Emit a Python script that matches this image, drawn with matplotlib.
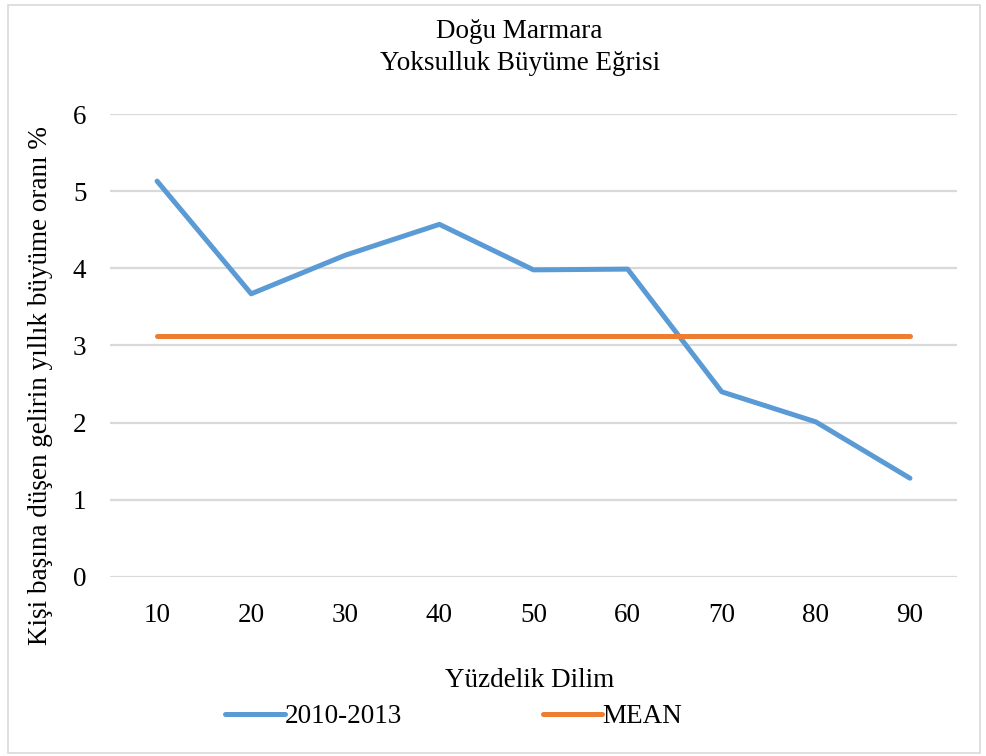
import matplotlib
matplotlib.use("Agg")
import matplotlib.pyplot as plt
from matplotlib.patches import Rectangle

percentiles = ["10", "20", "30", "40", "50", "60", "70", "80", "90"]
growth_2010_2013 = [5.13, 3.67, 4.17, 4.57, 3.98, 3.99, 2.40, 2.01, 1.28]
mean_growth = [3.12] * len(percentiles)
y_ticks = [0, 1, 2, 3, 4, 5, 6]

plt.rcParams["font.family"] = ["Liberation Serif", "DejaVu Serif"]
FS = 19.5

fig = plt.figure(figsize=(9.86, 7.56), dpi=100)
ax = fig.add_axes([0.1116, 0.2368, 0.9706 - 0.1116, 0.8492 - 0.2368])

x = list(range(len(percentiles)))
ax.plot(x, growth_2010_2013, color="#5B9BD5", lw=3.6, solid_capstyle="round",
        solid_joinstyle="round", label="2010-2013", zorder=3)
ax.plot(x, mean_growth, color="#ED7D31", lw=3.6, solid_capstyle="round",
        label="MEAN", zorder=3)

ax.set_xlim(-0.5, len(percentiles) - 0.5)
ax.set_ylim(0, 6)
ax.set_xticks(x)
ax.set_xticklabels(percentiles)
ax.set_yticks(y_ticks)
ax.tick_params(axis="both", length=0, labelsize=FS, colors="black")
ax.tick_params(axis="x", pad=19)
ax.tick_params(axis="y", pad=17)
ax.grid(axis="y", color="#D9D9D9", lw=1.6)
ax.set_axisbelow(True)
for s in ax.spines.values():
    s.set_visible(False)

fig.text(0.527, 0.975, "Doğu Marmara\nYoksulluk Büyüme Eğrisi", ha="center", va="top",
         fontsize=FS, linespacing=1.38)
fig.text(0.041, 0.49, "Kişi başına düşen gelirin yıllık büyüme oranı %", rotation=90,
         ha="center", va="center", fontsize=FS)
fig.text(0.537, 0.1, "Yüzdelik Dilim", ha="center", va="center", fontsize=FS)

leg = fig.legend(loc="center", bbox_to_anchor=(0.46, 0.052), ncol=2, frameon=False,
                 fontsize=FS, handlelength=2.2, handletextpad=0.0, columnspacing=5.2)

fig.patches.append(Rectangle((0.008, 0.004), 0.986, 0.99, transform=fig.transFigure,
                             fill=False, edgecolor="#D9D9D9", lw=1.2))

fig.savefig("out.png", dpi=100)
